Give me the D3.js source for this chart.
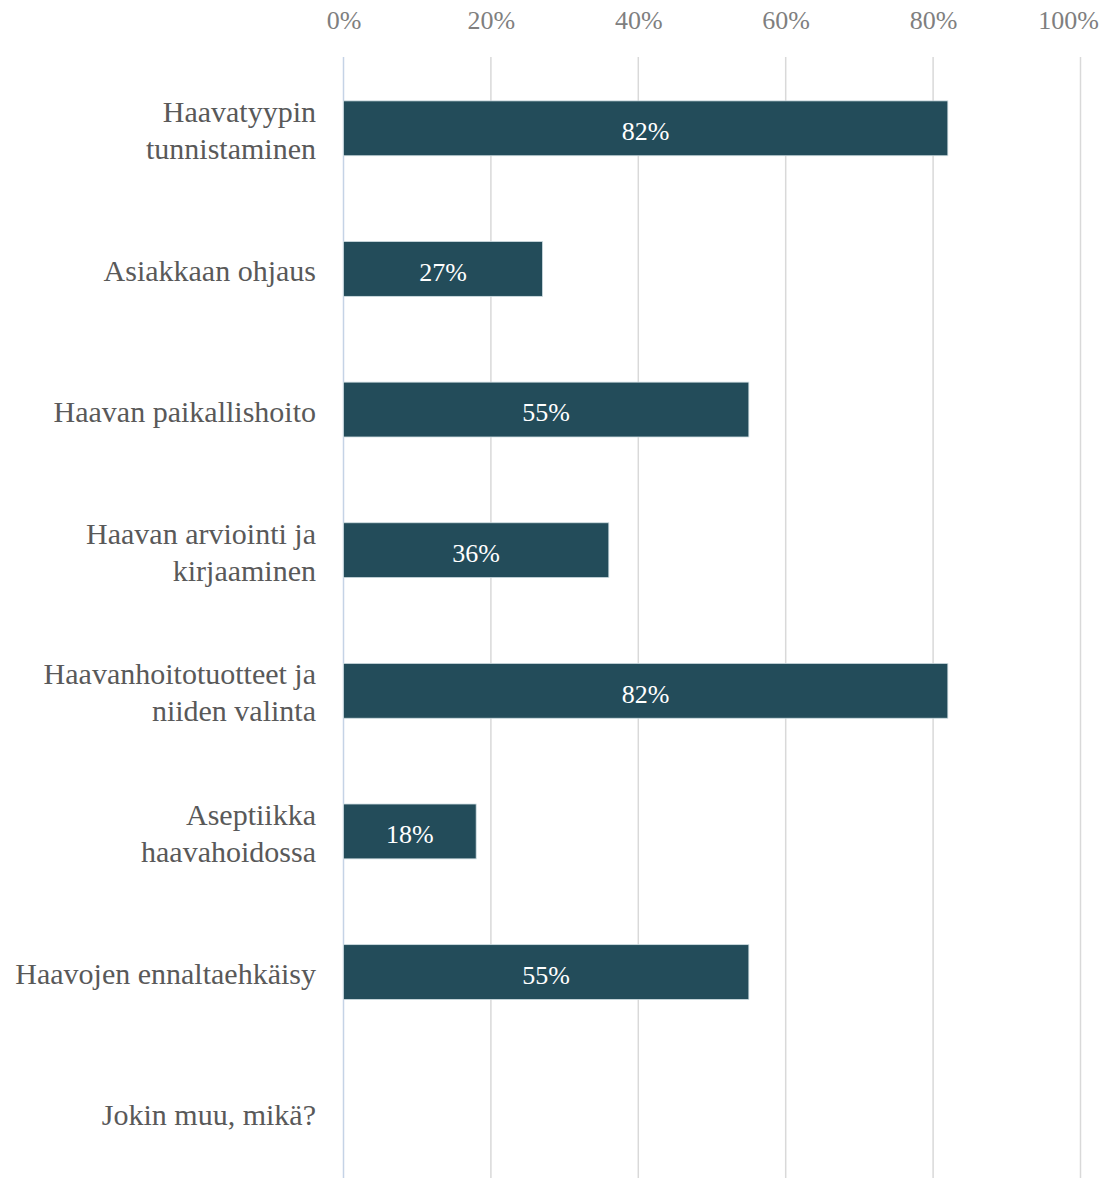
<!DOCTYPE html>
<html>
<head>
<meta charset="utf-8">
<script src="https://cdn.jsdelivr.net/npm/d3@7"></script>
<style>
  body { margin: 0; background: #fff; }
  text { font-family: "Liberation Serif", "Times New Roman", serif; }
</style>
</head>
<body>
<div id="graph"></div>
<script>
// kategoriat (rivinvaihto = \n)
const categories = [
    "Haavatyypin\ntunnistaminen",
    "Asiakkaan ohjaus",
    "Haavan paikallishoito",
    "Haavan arviointi ja\nkirjaaminen",
    "Haavanhoitotuotteet ja\nniiden valinta",
    "Aseptiikka\nhaavahoidossa",
    "Haavojen ennaltaehkäisy",
    "Jokin muu, mikä?"
]
// osuudet (0..1), viimeinen ilman palkkia
const values = [0.82, 0.27, 0.55, 0.36, 0.82, 0.18, 0.55, null]
const ticks = [0, 0.2, 0.4, 0.6, 0.8, 1]

const width = 1116, height = 1178

const svg = d3.select("#graph")
    .append("svg")
    .attr("width", width)
    .attr("height", height)

const x = d3.scaleLinear()
    .domain([0, 1])
    .range([343.5, 1080.5])

const y = d3.scaleBand()
    .domain(categories)
    .range([58, 1183])
    .paddingInner(0.61)
    .paddingOuter(0.305)

/* ---------------- grid ---------------- */
svg.append("g")
    .selectAll("line")
    .data(ticks)
    .join("line")
    .attr("x1", d => x(d))
    .attr("x2", d => x(d))
    .attr("y1", 57)
    .attr("y2", height)
    .attr("stroke", d => d === 0 ? "#c5d3e6" : "#d9d9d9")
    .attr("stroke-width", 1.5)

// tick labels en haut
const xAxis = svg.append("g")
    .attr("transform", "translate(0,29)")
    .call(d3.axisTop(x).tickValues(ticks).tickFormat(d3.format(".0%")).tickSize(0))
xAxis.select(".domain").remove()
xAxis.selectAll("text")
    .attr("y", 0)
    .attr("dy", 0)
    .attr("fill", "#7f7f7f")
    .style("font-size", "26px")
    .style("font-family", "'Liberation Serif', serif")
// dernier label décalé pour rester dans l'image
xAxis.selectAll(".tick").filter(d => d === 1).select("text")
    .attr("text-anchor", "end")
    .attr("x", 18)

/* ---------------- bars ---------------- */
const rows = categories.map((c, i) => ({ cat: c, val: values[i] }))
    .filter(d => d.val != null)

svg.append("g")
    .selectAll("rect")
    .data(rows)
    .join("rect")
    .attr("x", x(0))
    .attr("y", d => y(d.cat))
    .attr("width", d => x(d.val) - x(0))
    .attr("height", y.bandwidth())
    .attr("fill", "#234c5a")
    .attr("stroke", "#cfdde2")
    .attr("stroke-width", 0.8)

svg.append("g")
    .selectAll("text")
    .data(rows)
    .join("text")
    .attr("x", d => (x(0) + x(d.val)) / 2)
    .attr("y", d => y(d.cat) + y.bandwidth() / 2)
    .attr("dy", "0.45em")
    .attr("text-anchor", "middle")
    .attr("fill", "#ffffff")
    .style("font-size", "26px")
    .text(d => d3.format(".0%")(d.val))

/* ---------------- category labels ---------------- */
const lineH = 37
const labels = svg.append("g")
    .selectAll("text")
    .data(categories)
    .join("text")
    .attr("text-anchor", "end")
    .attr("fill", "#595959")
    .style("font-size", "30px")

labels.each(function (c) {
    const lines = c.split("\n")
    const cy = y(c) + y.bandwidth() / 2
    const t = d3.select(this)
    lines.forEach((l, i) => {
        t.append("tspan")
            .attr("x", 316)
            .attr("y", cy + (i - (lines.length - 1) / 2) * lineH)
            .attr("dy", "0.4em")
            .text(l)
    })
})
</script>
</body>
</html>
